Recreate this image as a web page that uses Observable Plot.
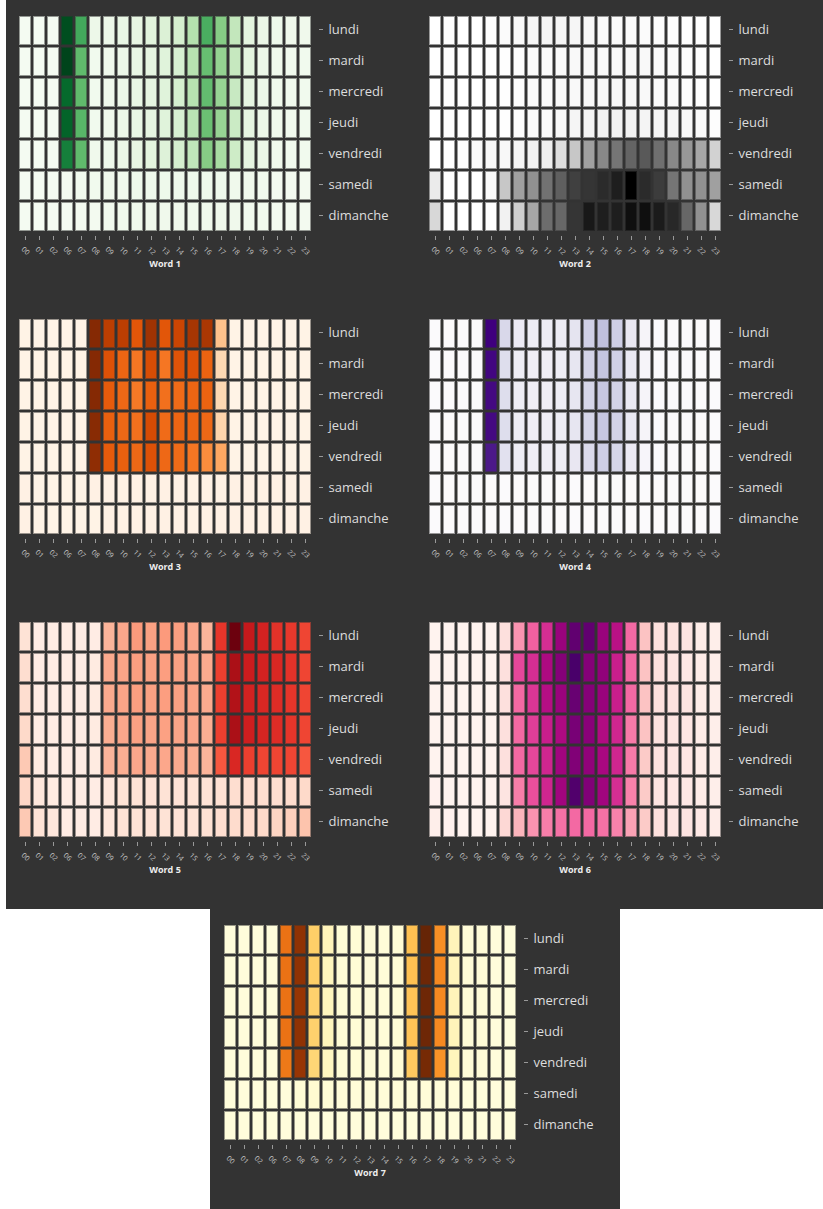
<!DOCTYPE html>
<html>
<head>
<meta charset="utf-8">
<script src="https://cdn.jsdelivr.net/npm/d3@7"></script>
<script src="https://cdn.jsdelivr.net/npm/@observablehq/plot@0.6"></script>
<style>
  html, body { margin: 0; padding: 0; background: #fff; overflow: hidden; }
  #topArea { position: absolute; left: 6px; top: 0; width: 817px; height: 909px; background: #333; overflow: hidden; }
  #bottomArea { position: absolute; left: 210px; top: 909px; width: 410px; height: 300px; background: #333; overflow: hidden; }
  .panel { position: absolute; }
</style>
</head>
<body>
<div id="topArea"></div>
<div id="bottomArea"></div>
<script>
const days = ["lundi","mardi","mercredi","jeudi","vendredi","samedi","dimanche"];
const hours = ["00","01","02","06","07","08","09","10","11","12","13","14","15","16","17","18","19","20","21","22","23"];
const titles = ["Word 1","Word 2","Word 3","Word 4","Word 5","Word 6","Word 7"];
const schemes = ["greens","greys","oranges","purples","reds","rdpu","ylorbr"];

const word1 = [
  [2,2,2,97,63,7,7,9,10,13,16,19,31,61,45,26,12,8,6,5,5],
  [2,2,2,100,55,4,5,7,9,11,14,18,30,53,41,25,12,7,5,4,4],
  [2,2,2,88,55,4,5,7,9,11,14,19,30,54,40,24,11,7,5,4,4],
  [2,2,2,90,57,4,5,7,9,11,14,18,29,52,40,23,11,7,5,4,4],
  [2,2,2,80,55,5,6,8,10,12,15,19,27,45,35,22,11,8,5,4,4],
  [2,2,2,3,4,4,5,5,6,6,6,6,6,6,6,5,5,4,3,3,3],
  [2,2,2,2,3,3,4,5,5,5,5,5,5,5,5,5,4,4,3,3,3]
];
const word2 = [
  [0,0,0,0,1,3,5,7,8,8,7,6,5,4,4,3,3,2,1,1,0],
  [0,0,0,0,0,1,2,3,3,4,5,5,5,5,5,5,4,3,2,1,0],
  [0,0,0,0,0,1,2,3,4,5,5,6,6,6,6,5,4,3,2,1,0],
  [0,0,0,0,0,1,2,3,4,6,8,9,10,10,10,9,8,7,6,5,2],
  [0,0,2,3,5,6,8,10,12,22,33,47,55,62,68,72,64,55,50,45,28],
  [15,0,0,0,5,33,47,52,63,70,80,83,86,90,100,86,81,62,52,52,47],
  [25,0,0,0,0,10,30,45,65,67,83,92,90,90,95,95,91,87,67,52,25]
];
const word3 = [
  [2,2,2,2,2,98,82,82,70,90,70,78,88,87,30,2,2,2,2,2,2],
  [2,2,2,2,2,98,72,64,58,74,58,71,72,65,20,2,2,2,2,2,2],
  [2,2,2,2,2,98,68,63,57,66,60,62,64,65,20,2,2,2,2,2,2],
  [2,2,2,2,2,97,66,63,60,75,62,64,64,63,22,2,2,2,2,2,2],
  [2,2,2,2,2,95,68,66,63,72,63,62,58,50,40,2,2,2,2,2,2],
  [3,2,2,2,2,3,3,3,3,3,3,3,3,3,3,3,3,3,3,3,3],
  [3,2,2,2,2,2,3,3,3,3,3,3,3,3,3,3,3,3,3,3,3]
];
const word4 = [
  [1,1,1,1,100,25,14,12,12,13,18,29,36,30,16,6,2,2,2,1,1],
  [1,1,1,1,98,22,12,11,11,12,17,27,34,29,15,6,2,2,2,1,1],
  [1,1,1,1,97,22,12,11,11,12,17,26,33,28,15,6,2,2,2,1,1],
  [1,1,1,1,97,22,12,11,11,12,17,26,33,28,15,6,2,2,2,1,1],
  [1,1,1,1,92,20,12,11,11,12,16,24,30,26,14,5,2,2,1,1,1],
  [1,1,1,1,1,1,1,1,1,1,1,1,1,1,1,1,1,1,1,1,1],
  [1,1,1,1,1,1,1,1,1,1,1,1,1,1,1,1,1,1,1,1,1]
];
const word5 = [
  [10,5,5,5,5,5,27,31,35,33,35,34,31,27,65,99,77,72,66,64,60],
  [12,5,5,5,5,6,30,32,34,33,34,33,32,30,62,85,75,72,70,66,60],
  [12,5,5,5,5,6,30,32,34,33,34,33,32,30,62,83,72,70,68,65,60],
  [14,5,5,5,5,6,29,31,33,32,33,32,31,29,62,85,74,71,68,65,60],
  [20,6,5,5,5,6,27,29,31,30,31,30,29,27,55,70,62,60,60,60,55],
  [15,8,6,5,5,5,8,10,10,10,10,10,10,10,11,12,12,12,12,13,14],
  [20,10,8,5,5,5,8,10,10,10,10,10,10,11,12,13,13,14,16,18,22]
];
const word6 = [
  [2,2,2,2,2,12,40,52,64,80,94,94,80,72,50,25,12,11,10,6,5],
  [2,2,2,2,2,12,58,64,75,85,100,85,82,68,50,25,12,10,8,6,5],
  [2,2,2,2,2,12,50,62,73,80,92,85,80,68,50,25,12,11,10,6,5],
  [2,2,2,2,2,12,50,60,68,75,88,84,74,66,46,25,11,10,9,6,5],
  [2,2,2,2,2,12,50,58,66,78,86,82,76,66,46,22,11,10,9,6,5],
  [3,2,2,2,2,10,45,56,66,78,98,86,78,64,44,22,10,9,8,6,5],
  [5,3,2,2,2,16,30,40,45,48,50,50,48,44,36,22,12,10,10,8,6]
];
const word7 = [
  [3,3,3,3,62,90,33,13,5,5,4,4,5,38,100,53,13,4,4,3,3],
  [3,3,3,3,62,90,33,12,5,5,4,4,5,38,98,55,13,4,4,3,3],
  [3,3,3,3,62,88,32,12,5,5,4,4,5,37,98,55,13,4,4,3,3],
  [3,3,3,3,62,90,32,12,5,5,4,4,5,37,98,55,13,4,4,3,3],
  [3,3,3,3,60,88,30,11,5,5,4,4,5,35,96,52,12,4,4,3,3],
  [3,3,3,3,3,5,6,5,4,4,4,4,4,4,4,4,4,3,3,3,3],
  [3,3,3,3,3,3,3,3,3,3,3,3,3,3,3,3,3,3,3,3,3]
];
const matrices = [word1, word2, word3, word4, word5, word6, word7];

function panel(title, matrix, scheme) {
  const data = [];
  matrix.forEach((row, i) => row.forEach((v, j) => data.push({day: days[i], hour: hours[j], value: v})));
  return Plot.plot({
    width: 410, height: 303,
    marginLeft: 11, marginRight: 104, marginTop: 13, marginBottom: 70,
    style: {background: "transparent", fontFamily: "'Open Sans', sans-serif", overflow: "visible"},
    x: {domain: hours, padding: 0},
    y: {domain: days, padding: 0},
    color: {type: "linear", scheme: scheme, domain: [0, 100]},
    marks: [
      Plot.cell(data, {x: "hour", y: "day", fill: "value", stroke: "value", inset: 2, strokeWidth: 2, strokeOpacity: 0.5}),
      Plot.axisX({anchor: "bottom", tickSize: 4, dy: 3, tickFormat: () => "", stroke: "#999", label: null}),
      Plot.text(hours, {x: d => d, frameAnchor: "bottom", dy: 17.5, rotate: 45, textAnchor: "middle", lineAnchor: "middle", fontSize: 7, fill: "#c8c8c8"}),
      Plot.axisY({anchor: "right", tickSize: 4, dx: 6, dy: -1.5, tickPadding: 6, fontSize: 13, stroke: "#999", fill: "#ddd", label: null}),
      Plot.text([title], {frameAnchor: "bottom", dy: 33, fontWeight: "bold", fontSize: 9, fill: "#eee"})
    ]
  });
}

const topArea = document.getElementById("topArea");
const positions = [[0,0],[410,0],[0,303],[410,303],[0,606],[410,606]];
for (let k = 0; k < 6; k++) {
  const svg = panel(titles[k], matrices[k], schemes[k]);
  svg.classList.add("panel");
  svg.style.left = positions[k][0] + "px";
  svg.style.top = positions[k][1] + "px";
  topArea.appendChild(svg);
}
const svg7 = panel(titles[6], matrices[6], schemes[6]);
svg7.classList.add("panel");
svg7.style.left = "1px";
svg7.style.top = "0px";
document.getElementById("bottomArea").appendChild(svg7);
</script>
</body>
</html>
